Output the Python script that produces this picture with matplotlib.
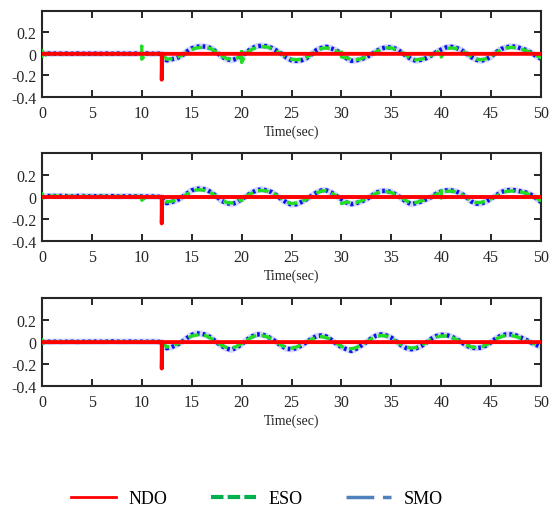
import numpy as np
import matplotlib
matplotlib.use('Agg')
import matplotlib.pyplot as plt
from matplotlib.lines import Line2D

plt.rcParams['font.family'] = ['Liberation Serif', 'DejaVu Serif']

time = np.arange(0, 50.5, 0.5)

pre = [0.0, 0.004, 0.0, 0.003, 0.0, 0.002, 0.0, 0.003, 0.0, 0.002, 0.0, 0.002,
       0.0, 0.002, 0.0, 0.003, 0.0, 0.002, 0.0, 0.002, 0.0, 0.003, 0.0, 0.002]

eso_1 = pre + [0.0, -0.05, -0.045, -0.035, -0.015, 0.015, 0.04, 0.055, 0.06, 0.06,
               0.045, 0.015, -0.02, -0.045, -0.05, -0.04, -0.02, 0.01, 0.04, 0.06,
               0.065, 0.065, 0.05, 0.025, 0.0, -0.03, -0.05, -0.055, -0.05, -0.035,
               -0.005, 0.03, 0.05, 0.055, 0.045, 0.025, 0.0, -0.035, -0.055, -0.055,
               -0.045, -0.025, -0.005, 0.02, 0.045, 0.055, 0.055, 0.04, 0.015, -0.015,
               -0.045, -0.055, -0.05, -0.035, -0.015, 0.01, 0.035, 0.05, 0.055, 0.05,
               0.03, 0.005, -0.025, -0.05, -0.055, -0.045, -0.02, 0.01, 0.04, 0.055,
               0.06, 0.055, 0.045, 0.03, 0.01, -0.015, -0.04]
smo_1 = pre + [0.0, -0.06, -0.05, -0.04, -0.02, 0.02, 0.05, 0.065, 0.07, 0.065,
               0.05, 0.015, -0.025, -0.05, -0.06, -0.045, -0.02, 0.015, 0.05, 0.07,
               0.075, 0.07, 0.055, 0.03, 0.0, -0.035, -0.06, -0.065, -0.06, -0.04,
               -0.005, 0.035, 0.055, 0.065, 0.05, 0.03, 0.0, -0.04, -0.065, -0.06,
               -0.05, -0.03, -0.005, 0.025, 0.05, 0.06, 0.06, 0.045, 0.015, -0.02,
               -0.05, -0.065, -0.055, -0.04, -0.015, 0.015, 0.04, 0.06, 0.065, 0.055,
               0.035, 0.005, -0.03, -0.055, -0.065, -0.05, -0.025, 0.015, 0.045, 0.06,
               0.07, 0.065, 0.05, 0.035, 0.01, -0.02, -0.045]

pre2 = [0.0, 0.008, 0.01, 0.008, 0.01, 0.008, 0.006, 0.008, 0.01, 0.006, 0.008, 0.006,
        0.008, 0.006, 0.008, 0.005, 0.006, 0.008, 0.005, 0.006, 0.005, 0.004, 0.005, 0.003]

eso_2 = pre2 + [0.0, -0.045, -0.04, -0.025, -0.005, 0.025, 0.05, 0.065, 0.065, 0.055,
                0.035, 0.005, -0.03, -0.05, -0.055, -0.045, -0.02, 0.01, 0.035, 0.055,
                0.06, 0.055, 0.04, 0.015, -0.015, -0.045, -0.06, -0.055, -0.04, -0.02,
                0.005, 0.035, 0.055, 0.055, 0.035, 0.01, -0.015, -0.045, -0.055, -0.05,
                -0.035, -0.015, 0.01, 0.035, 0.05, 0.05, 0.04, 0.02, -0.005, -0.035,
                -0.055, -0.05, -0.035, -0.02, 0.0, 0.025, 0.045, 0.05, 0.055, 0.045,
                0.025, 0.0, -0.035, -0.05, -0.05, -0.035, -0.015, 0.01, 0.035, 0.05,
                0.055, 0.05, 0.045, 0.035, 0.015, -0.01, -0.035]
smo_2 = pre2 + [0.0, -0.055, -0.045, -0.03, -0.005, 0.03, 0.06, 0.075, 0.075, 0.065,
                0.04, 0.005, -0.035, -0.055, -0.065, -0.05, -0.02, 0.01, 0.04, 0.06,
                0.07, 0.06, 0.045, 0.015, -0.02, -0.05, -0.07, -0.065, -0.045, -0.02,
                0.01, 0.04, 0.06, 0.06, 0.04, 0.01, -0.02, -0.05, -0.065, -0.055,
                -0.04, -0.02, 0.01, 0.04, 0.055, 0.055, 0.045, 0.02, -0.01, -0.045,
                -0.065, -0.055, -0.04, -0.02, 0.0, 0.03, 0.05, 0.06, 0.06, 0.05,
                0.03, 0.0, -0.04, -0.06, -0.06, -0.04, -0.015, 0.015, 0.045, 0.06,
                0.065, 0.06, 0.05, 0.04, 0.02, -0.01, -0.045]

pre3 = [0.0, 0.003, 0.002, 0.004, 0.002, 0.003, 0.004, 0.002, 0.003, 0.004, 0.003, 0.005,
        0.003, 0.004, 0.006, 0.004, 0.003, 0.004, 0.005, 0.003, 0.004, 0.003, 0.004, 0.003]

eso_3 = pre3 + [0.0, -0.045, -0.035, -0.02, 0.0, 0.03, 0.055, 0.065, 0.065, 0.055,
                0.03, 0.0, -0.03, -0.05, -0.055, -0.04, -0.015, 0.015, 0.045, 0.06,
                0.06, 0.05, 0.03, 0.0, -0.03, -0.05, -0.055, -0.045, -0.025, 0.0,
                0.025, 0.045, 0.05, 0.04, 0.02, -0.01, -0.04, -0.055, -0.06, -0.05,
                -0.025, 0.0, 0.03, 0.05, 0.06, 0.055, 0.035, 0.005, -0.025, -0.045,
                -0.055, -0.05, -0.03, -0.005, 0.025, 0.045, 0.055, 0.055, 0.045, 0.025,
                0.0, -0.025, -0.045, -0.05, -0.045, -0.025, 0.0, 0.03, 0.05, 0.06,
                0.06, 0.05, 0.035, 0.015, -0.005, -0.02, -0.035]
smo_3 = pre3 + [0.0, -0.055, -0.045, -0.025, 0.0, 0.035, 0.065, 0.08, 0.075, 0.065,
                0.035, 0.0, -0.035, -0.06, -0.07, -0.05, -0.02, 0.02, 0.05, 0.07,
                0.07, 0.055, 0.03, 0.0, -0.035, -0.06, -0.065, -0.055, -0.03, 0.0,
                0.03, 0.055, 0.06, 0.05, 0.02, -0.015, -0.045, -0.065, -0.08, -0.06,
                -0.03, 0.0, 0.035, 0.06, 0.07, 0.06, 0.04, 0.005, -0.03, -0.055,
                -0.065, -0.055, -0.035, -0.005, 0.03, 0.055, 0.065, 0.065, 0.05, 0.03,
                0.0, -0.03, -0.05, -0.055, -0.05, -0.03, 0.0, 0.035, 0.06, 0.07,
                0.07, 0.06, 0.04, 0.02, -0.005, -0.025, -0.045]

# short vertical glitches of the ESO trace (time, value)
eso_glitch_t = [[0.0, 0.0, 10.0, 10.0, 20.0, 20.0, 30.0, 30.0, 40.0, 40.0],
                [0.0, 0.0, 10.0, 10.0, 20.0, 20.0, 30.0, 30.0, 40.0, 40.0],
                [0.0, 0.0, 10.0, 10.0]]
eso_glitch_v = [[0.03, -0.05, 0.07, -0.05, 0.02, -0.08, 0.03, -0.03, 0.04, -0.03],
                [0.03, -0.01, 0.03, -0.03, 0.0, -0.05, -0.01, -0.06, 0.07, -0.01],
                [0.02, -0.01, 0.015, -0.005]]

# NDO: flat at zero with one spike at t = 12 s
ndo_t = [0.0, 11.95, 12.0, 12.0, 12.05, 50.0]
ndo_v = [0.0, 0.0, 0.0, -0.24, 0.0, 0.0]

eso_all = [eso_1, eso_2, eso_3]
smo_all = [smo_1, smo_2, smo_3]

x_ticks = [0, 5, 10, 15, 20, 25, 30, 35, 40, 45, 50]
y_ticks = [-0.4, -0.2, 0, 0.2]
y_labels = ['-0.4', '-0.2', '0', '0.2']

#%% Figure
fig = plt.figure(figsize=(5.59, 5.10), dpi=100)
boxes = [[0.075, 0.808, 0.893, 0.169],
         [0.075, 0.5255, 0.893, 0.1725],
         [0.075, 0.241, 0.893, 0.1725]]

for i in range(3):
    ax = fig.add_axes(boxes[i])
    # merge glitches into the ESO trace
    et = np.concatenate([time, eso_glitch_t[i]])
    ev = np.concatenate([eso_all[i], eso_glitch_v[i]])
    order = np.argsort(et, kind='stable')
    ax.plot(time, smo_all[i], color='#b4bcff', lw=4.5, alpha=0.6, zorder=1)
    ax.plot(time, smo_all[i], color='#0a14e6', lw=3.2, ls=(0, (0.6, 0.7)), zorder=2)
    ax.plot(et[order], ev[order], color='#22dd22', lw=2.4, ls=(0, (3.2, 1.6)), zorder=3)
    ax.plot(ndo_t, ndo_v, color='#ff0000', lw=2.8, zorder=4)

    ax.set_xlim(0, 50)
    ax.set_ylim(-0.4, 0.4)
    ax.set_xticks(x_ticks)
    ax.set_yticks(y_ticks)
    ax.set_yticklabels(y_labels)
    ax.tick_params(direction='in', length=5, width=1.4, labelsize=11.5,
                   top=True, right=True, colors='#262626')
    ax.tick_params(axis='x', pad=6)
    ax.tick_params(axis='y', pad=4)
    for s in ax.spines.values():
        s.set_linewidth(1.5)
        s.set_color('#262626')
    ax.set_xlabel('Time(sec)', fontsize=10, labelpad=2, color='#262626')

handles = [Line2D([], [], color='#ff0000', lw=2),
           Line2D([], [], color='#00b050', lw=3, ls=(0, (3, 1))),
           Line2D([], [], color='#4f81bd', lw=2.5, ls=(0, (8, 2.5, 3, 0)))]
fig.legend(handles, ['NDO', 'ESO', 'SMO'], loc='center', bbox_to_anchor=(0.46, 0.02),
           ncol=3, frameon=False, fontsize=13, handlelength=2.5, columnspacing=2.4,
           handletextpad=0.7)

fig.savefig('out.png', dpi=100)
